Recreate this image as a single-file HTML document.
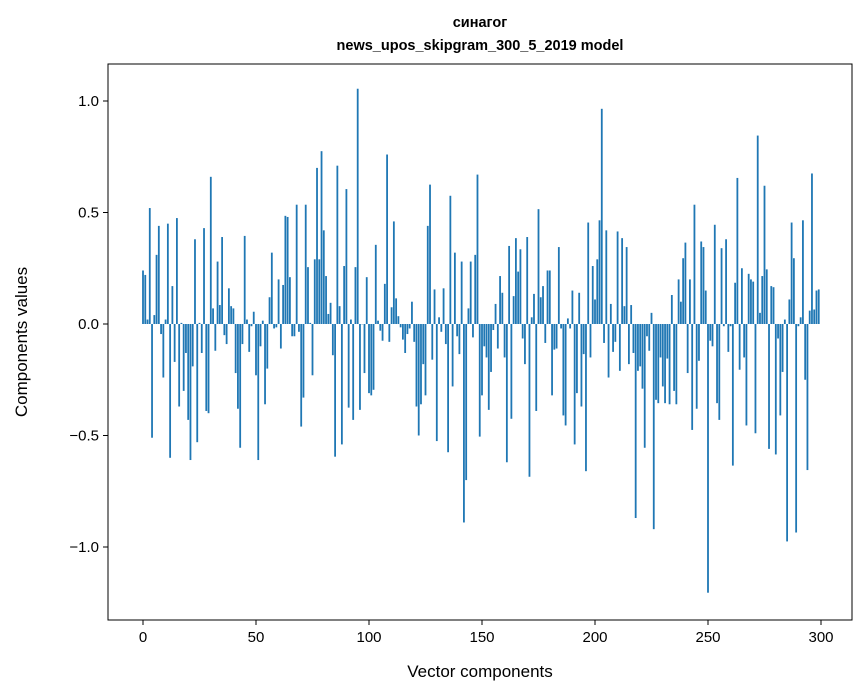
<!DOCTYPE html>
<html><head><meta charset="utf-8"><style>
body{margin:0;background:#fff}
svg{display:block;font-family:"Liberation Sans","DejaVu Sans",sans-serif}
</style></head><body>
<svg id="chart" width="867" height="696">
<text x="480" y="27" text-anchor="middle" font-size="14.5" font-weight="bold">синагог</text>
<text x="480" y="50" text-anchor="middle" font-size="14.5" font-weight="bold">news_upos_skipgram_300_5_2019 model</text>
<g id="bars"></g>
<g id="axes"></g>
<text x="480" y="677" text-anchor="middle" font-size="17">Vector components</text>
<text transform="translate(27,342) rotate(-90)" text-anchor="middle" font-size="17">Components values</text>
</svg>
<script>
const values = [0.24,0.22,0.02,0.52,-0.51,0.04,0.31,0.44,-0.045,-0.24,0.02,0.45,-0.6,0.17,-0.17,0.475,-0.37,0.005,-0.3,-0.13,-0.43,-0.61,-0.19,0.38,-0.53,0.005,-0.13,0.43,-0.39,-0.4,0.66,0.07,-0.12,0.28,0.085,0.39,-0.05,-0.09,0.16,0.08,0.07,-0.22,-0.38,-0.555,-0.09,0.395,0.02,-0.125,-0.01,0.055,
-0.23,-0.61,-0.1,0.015,-0.36,-0.2,0.12,0.32,-0.02,-0.015,0.2,-0.11,0.175,0.485,0.48,0.21,-0.055,-0.055,0.535,-0.035,-0.46,-0.33,0.535,0.255,0.005,-0.23,0.29,0.7,0.29,0.775,0.42,0.215,0.045,0.095,-0.14,-0.595,0.71,0.08,-0.54,0.26,0.605,-0.375,0.02,-0.43,0.255,1.055,-0.385,0,-0.22,0.21,
-0.31,-0.32,-0.295,0.355,0.015,-0.03,-0.075,0.18,0.76,-0.08,0.075,0.46,0.115,0.035,-0.015,-0.07,-0.13,-0.045,-0.02,0.1,-0.08,-0.37,-0.5,-0.36,-0.18,-0.32,0.44,0.625,-0.16,0.155,-0.525,0.03,-0.035,0.16,-0.09,-0.575,0.575,-0.28,0.32,-0.055,-0.135,0.28,-0.89,-0.7,0.07,0.28,-0.06,0.31,0.67,-0.505,
-0.32,-0.1,-0.15,-0.385,-0.215,-0.027,0.09,-0.11,0.215,0.14,-0.15,-0.62,0.35,-0.425,0.125,0.385,0.235,0.335,-0.065,-0.18,0.39,-0.685,0.03,0.135,-0.39,0.515,0.12,0.17,-0.085,0.24,0.24,-0.32,-0.115,-0.11,0.345,-0.02,-0.41,-0.455,0.025,-0.02,0.15,-0.54,-0.31,0.14,-0.37,-0.135,-0.66,0.455,-0.15,0.26,
0.11,0.29,0.465,0.965,-0.085,0.42,-0.24,0.09,-0.125,-0.08,0.415,-0.21,0.385,0.08,0.345,-0.18,0.085,-0.13,-0.87,-0.21,-0.19,-0.29,-0.555,-0.055,-0.12,0.05,-0.92,-0.34,-0.355,-0.15,-0.28,-0.355,-0.155,-0.36,0.13,-0.3,-0.36,0.2,0.1,0.295,0.365,-0.22,0.2,-0.475,0.535,-0.38,-0.165,0.37,0.345,0.15,
-1.205,-0.075,-0.1,0.445,-0.355,-0.43,0.34,-0.01,0.38,-0.125,-0.01,-0.635,0.185,0.655,-0.205,0.25,-0.15,-0.455,0.225,0.2,0.19,-0.49,0.845,0.05,0.215,0.62,0.245,-0.56,0.17,0.165,-0.585,-0.065,-0.41,-0.215,0.02,-0.975,0.11,0.455,0.295,-0.935,-0.01,0.03,0.465,-0.25,-0.655,0.06,0.675,0.065,0.15,0.155];
const xTicks = [0,50,100,150,200,250,300];
const yTicks = [-1.0,-0.5,0.0,0.5,1.0];
const yTickLabels = ["\u22121.0","\u22120.5","0.0","0.5","1.0"];

const L=108,R=852,T=64,B=620;
const xs = i => 143 + 2.26*i;
const ys = v => 324 - 223*v;
const NS="http://www.w3.org/2000/svg";
const bars=document.getElementById('bars');
values.forEach((v,i)=>{
  const r=document.createElementNS(NS,'rect');
  const y0=ys(0), y1=ys(v);
  r.setAttribute('x',xs(i)-0.9);
  r.setAttribute('width',1.8);
  r.setAttribute('y',Math.min(y0,y1));
  r.setAttribute('height',Math.max(Math.abs(y1-y0),0.3));
  r.setAttribute('fill','#1f77b4');
  
  
  bars.appendChild(r);
});
const ax=document.getElementById('axes');
let h=`<rect x="${L}" y="${T}" width="${R-L}" height="${B-T}" fill="none" stroke="#000" stroke-width="1"/>`;
xTicks.forEach(t=>{const x=xs(t);h+=`<line x1="${x}" x2="${x}" y1="${B}" y2="${B+5}" stroke="#000"/><text x="${x}" y="${B+22}" text-anchor="middle" font-size="15">${t}</text>`;});
yTicks.forEach((t,k)=>{const y=ys(t);h+=`<line x1="${L-5}" x2="${L}" y1="${y}" y2="${y}" stroke="#000"/><text x="${L-9}" y="${y+5}" text-anchor="end" font-size="15">${yTickLabels[k]}</text>`;});
ax.innerHTML=h;
</script>
</body></html>
